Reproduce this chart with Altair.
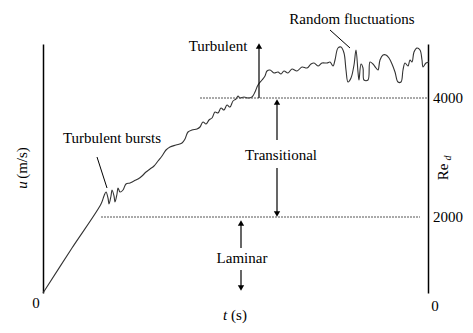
import altair as alt
import pandas as pd

# Velocity trace (t, u) in arbitrary units
t_vals = [0, 29, 58, 61, 63, 65, 66, 68, 69, 71, 72, 74, 75, 77, 80, 83, 87, 91, 95, 99, 103,
          107, 111, 115, 119, 123, 127, 133, 139, 142, 145, 149, 154, 157, 160, 163, 166,
          169, 172, 175, 178, 181, 184, 187, 190, 193, 195, 197, 201, 205, 209, 212, 215,
          219, 222, 224, 227, 231, 235, 238, 241, 245, 249, 254, 259, 264, 268, 271, 275,
          279, 284, 287, 290, 292, 295, 298, 301, 303, 305, 308, 311, 313, 315, 316, 318,
          320, 321, 325, 327, 330, 333, 335, 337, 340, 343, 346, 349, 352, 355, 358, 360,
          362, 365, 367, 369, 371, 374, 377, 379, 380, 383, 386]
u_vals = [0, 45, 89, 97, 101, 95, 89, 97, 103, 97, 91, 99, 105, 101, 103, 109, 110, 112, 114, 117, 121,
          124, 127, 132, 137, 143, 146, 148, 150, 154, 161, 163, 164, 166, 171, 169, 173,
          175, 181, 180, 185, 183, 188, 186, 192, 194, 197, 195, 196, 195, 196, 201, 208,
          213, 217, 222, 223, 220, 221, 219, 222, 220, 224, 222, 226, 225, 229, 230, 227,
          230, 230, 231, 227, 233, 245, 246, 240, 223, 211, 215, 228, 243, 221, 213, 229,
          225, 213, 213, 231, 229, 225, 223, 233, 238, 238, 235, 229, 221, 211, 211, 223,
          230, 227, 233, 231, 241, 245, 243, 233, 226, 230, 231]

# Reynolds-number thresholds (dotted lines)
re_labels = ["2000", "4000"]
re_u = [76, 195]
re_t_start = [58, 157]
re_t_end = [377, 384]

# Arrow shafts and heads
shaft_t = [216, 234, 234, 198, 198]
shaft_u1 = [195, 153, 125, 68, 23]
shaft_u2 = [246, 189, 81, 45, 7]
head_t = [216, 234, 234, 198, 198]
head_u = [247, 191, 79, 70, 5]
head_shape = ["triangle-up", "triangle-up", "triangle-down", "triangle-up", "triangle-down"]

# Pointer lines
ptr_id = ["a", "a", "b", "b"]
ptr_t = [54, 64, 287, 307]
ptr_u = [136, 105, 263, 245]

# Text labels
lab_text = ["Turbulent bursts", "Random fluctuations", "Turbulent", "Transitional", "Laminar",
            "4000", "2000", "0", "0", "(s)"]
lab_t = [69, 309, 175, 238, 199, 405, 405, 392, -7, 196]
lab_u = [155, 274, 247, 138, 35, 195, 76, -13, -10, -22]

curve = pd.DataFrame({"t": t_vals, "u": u_vals})
levels = pd.DataFrame({"label": re_labels, "u": re_u, "t1": re_t_start, "t2": re_t_end})
shafts = pd.DataFrame({"t": shaft_t, "u1": shaft_u1, "u2": shaft_u2})
heads = pd.DataFrame({"t": head_t, "u": head_u, "shape": head_shape})
ptrs = pd.DataFrame({"id": ptr_id, "t": ptr_t, "u": ptr_u})
labels = pd.DataFrame({"text": lab_text, "t": lab_t, "u": lab_u})

FONT = "Liberation Serif"
xs = alt.Scale(domain=[0, 385], nice=False, zero=False)
ys = alt.Scale(domain=[0, 249], nice=False, zero=False)
ax_off = dict(title=None, labels=False, ticks=False, grid=False,
              domainColor="black", domainWidth=1.5)

X = alt.X("t:Q", scale=xs, axis=None)
Y = alt.Y("u:Q", scale=ys, axis=None)

line = alt.Chart(curve).mark_line(color="#333333", strokeWidth=1.1,
                                  interpolate="catmull-rom", clip=False).encode(
    x=alt.X("t:Q", scale=xs, axis=alt.Axis(**ax_off)),
    y=alt.Y("u:Q", scale=ys, axis=alt.Axis(**ax_off)),
)

dotted = alt.Chart(levels).mark_rule(color="#555555", strokeWidth=1,
                                     strokeDash=[2, 1]).encode(
    x=X,
    x2="t2:Q",
    y=alt.Y("u:Q", scale=ys, axis=alt.Axis(orient="right", **ax_off)),
).transform_calculate(t="datum.t1")

shaft = alt.Chart(shafts).mark_rule(color="black", strokeWidth=1.2).encode(
    x=X,
    y=alt.Y("u1:Q", scale=ys, axis=None),
    y2="u2:Q",
)

head = alt.Chart(heads).mark_point(filled=True, color="black", size=40,
                                   opacity=1, clip=False).encode(
    x=X, y=Y,
    shape=alt.Shape("shape:N", scale=None),
)

ptr = alt.Chart(ptrs).mark_line(color="black", strokeWidth=1).encode(
    x=X, y=Y, detail="id:N",
)

text = alt.Chart(labels).mark_text(font=FONT, fontSize=15, color="black",
                                   align="center", baseline="middle").encode(
    x=X, y=Y, text="text:N",
)

t_ital = alt.Chart(pd.DataFrame({"text": ["t"], "t": [182], "u": [-22]})).mark_text(
    font=FONT, fontSize=15, fontStyle="italic", color="black", baseline="middle").encode(
    x=X, y=Y, text="text:N")

rot = alt.Chart(pd.DataFrame({"text": ["(m/s)", "Re"], "t": [-21, 400], "u": [130, 121]})).mark_text(
    font=FONT, fontSize=15, color="black", angle=270, baseline="middle").encode(
    x=X, y=Y, text="text:N")

rot_u = alt.Chart(pd.DataFrame({"text": ["u"], "t": [-21], "u": [108]})).mark_text(
    font=FONT, fontSize=15, fontStyle="italic", color="black", angle=270,
    baseline="middle").encode(
    x=X, y=Y, text="text:N")

rot_d = alt.Chart(pd.DataFrame({"text": ["d"], "t": [405], "u": [135]})).mark_text(
    font=FONT, fontSize=10, fontStyle="italic", color="black", angle=270,
    baseline="middle").encode(
    x=X, y=Y, text="text:N")

chart = alt.layer(line, dotted, shaft, head, ptr, text, t_ital, rot, rot_u, rot_d).resolve_scale(
    y="independent"
).properties(
    width=385, height=249,
    autosize=alt.AutoSizeParams(type="none"),
    padding={"left": 43, "top": 44, "right": 45, "bottom": 40},
    background="white",
).configure_view(stroke=None)

chart.save("out.html", embed_options={"renderer": "svg", "actions": False})
